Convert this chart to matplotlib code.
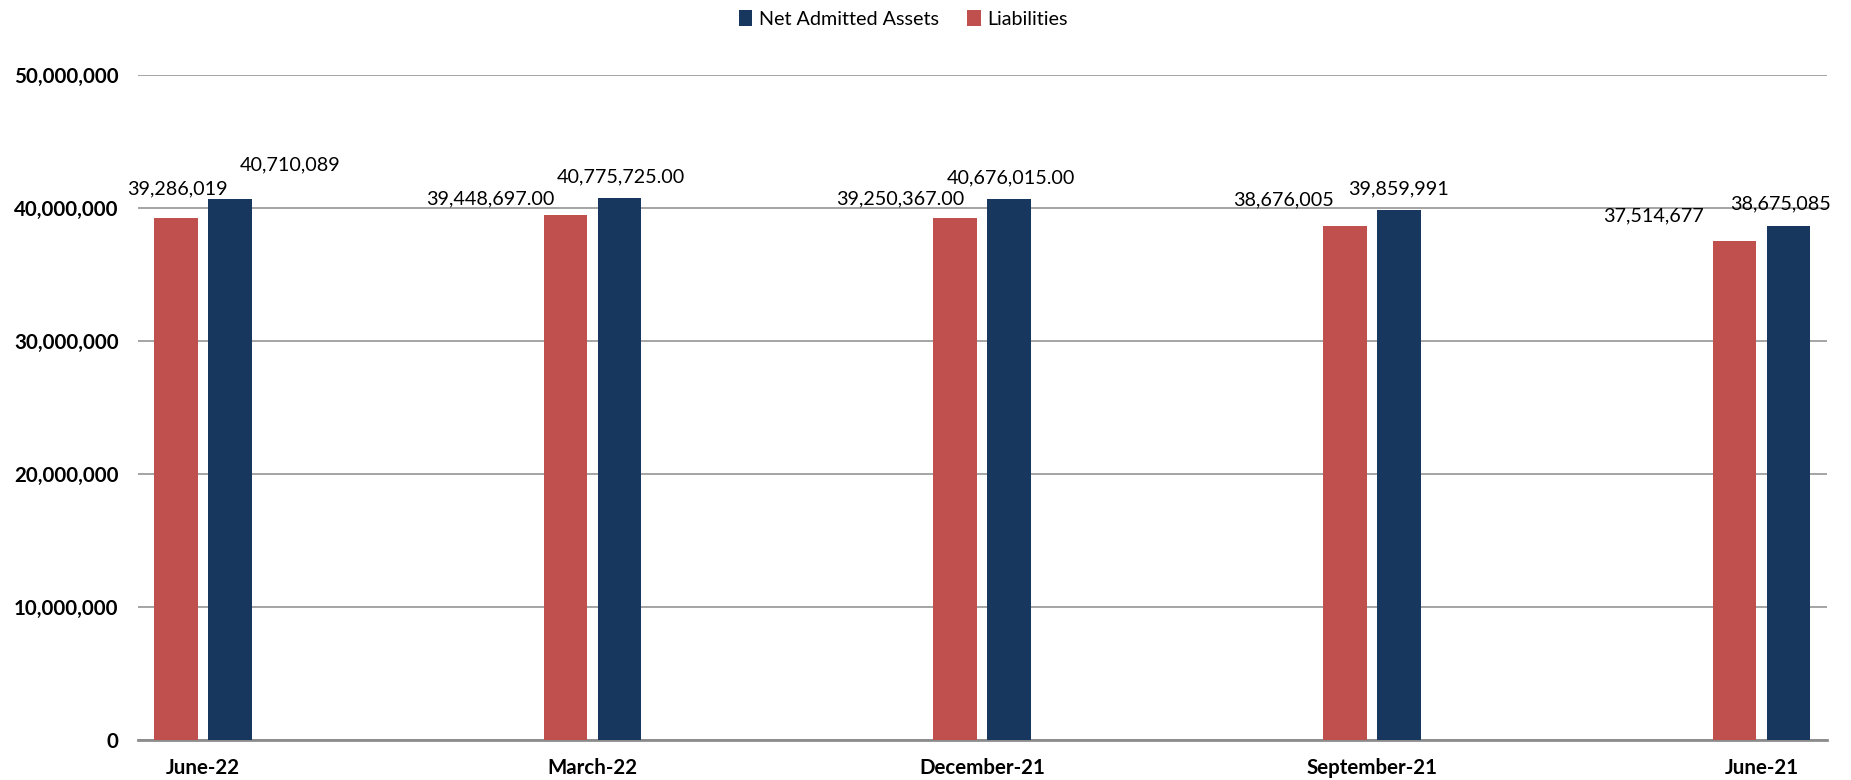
import matplotlib

matplotlib.use("Agg")

import matplotlib.pyplot as plt
import numpy as np
from matplotlib.ticker import FuncFormatter, MultipleLocator

periods = ["June-22", "March-22", "December-21", "September-21", "June-21"]
liabilities = [39286019, 39448697, 39250367, 38676005, 37514677]
net_admitted_assets = [40710089, 40775725, 40676015, 39859991, 38675085]
# number of decimals printed on each period's data labels
label_decimals = [0, 2, 2, 0, 0]

# data labels were nudged by hand; (dx, dy) in pixels from the top centre of each bar
liab_nudge = [(1.5, 28.5), (-75, 16), (-55, 19), (-61, 26), (-81, 25)]
asset_nudge = [(60, 33.5), (1.5, 21), (2, 21), (0, 21), (-8, 22)]

RED = "#C0504D"
NAVY = "#17375E"
GRID = "#8C8C8C"

plt.rcParams["font.family"] = ["Lato", "DejaVu Sans"]

fig = plt.figure(figsize=(18.51, 7.80), dpi=100)
ax = fig.add_axes([0.07455, 0.05128, 0.91248, 0.85256])

x = np.arange(len(periods))
bar_w = 0.1117
shift = 0.0693

liab_bars = ax.bar(x - shift, liabilities, bar_w, color=RED, zorder=3,
                   label="Liabilities")
asset_bars = ax.bar(x + shift, net_admitted_assets, bar_w, color=NAVY, zorder=3,
                    label="Net Admitted Assets")


def _fmt(value, decimals):
    return f"{value:,.{decimals}f}"


for bars, values, nudges in (
    (liab_bars, liabilities, liab_nudge),
    (asset_bars, net_admitted_assets, asset_nudge),
):
    for rect, val, dec, (dx, dy) in zip(bars, values, label_decimals, nudges):
        cx = rect.get_x() + rect.get_width() / 2
        ax.annotate(_fmt(val, dec), (cx, val), xytext=(dx, dy),
                    textcoords="offset pixels", ha="center", va="center",
                    fontsize=14.2, color="black", zorder=4)

ax.set_xlim(-0.1668, 4.168)
ax.set_ylim(0, 50_000_000)
ax.yaxis.set_major_locator(MultipleLocator(10_000_000))
ax.yaxis.set_major_formatter(FuncFormatter(lambda v, _: f"{v:,.0f}"))
ax.set_xticks(x)
ax.set_xticklabels(periods)

for label in ax.get_xticklabels() + ax.get_yticklabels():
    label.set_fontweight("bold")
    label.set_fontsize(14.8)

ax.tick_params(axis="y", length=0, pad=14)
ax.tick_params(axis="x", length=0, pad=13)

for spine in ax.spines.values():
    spine.set_visible(False)

ax.yaxis.grid(True, color=GRID, linewidth=1.1, zorder=1)
ax.set_axisbelow(True)
ax.axhline(0, color=GRID, linewidth=2, zorder=2, clip_on=False)

fig.legend([asset_bars, liab_bars], ["Net Admitted Assets", "Liabilities"],
           loc="center", bbox_to_anchor=(0.488, 0.9756), ncol=2, frameon=False,
           fontsize=14.2, handlelength=0.7, handleheight=0.9, handletextpad=0.35,
           columnspacing=1.4)

fig.savefig("out.png", dpi=100)
plt.close(fig)
